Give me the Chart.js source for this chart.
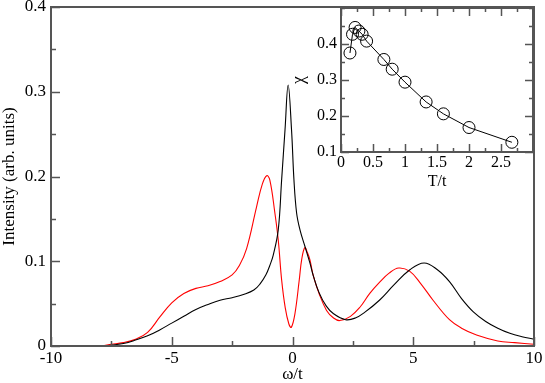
<!DOCTYPE html>
<html>
<head>
<meta charset="utf-8">
<script src="https://cdn.jsdelivr.net/npm/chart.js@4.4.1/dist/chart.umd.min.js"></script>
<style>
  html, body { margin: 0; padding: 0; background: #fff; }
  #wrap { position: relative; width: 545px; height: 383px; }
  #main { position: absolute; left: 0; top: 0; }
  #inset { position: absolute; left: 290px; top: 0; }
</style>
</head>
<body>
<div id="wrap">
  <canvas id="main" width="545" height="383"></canvas>
  <canvas id="inset" width="250" height="190"></canvas>
</div>
<script>
// main panel: spectra (black and red curves)
const omegaBlack = [-10, -8, -7.5, -7, -6.5, -6, -5.5, -5, -4.5, -4, -3.5, -3, -2.5, -2, -1.6, -1.35, -1.1, -0.94, -0.8, -0.59, -0.45, -0.31, -0.18, -0.04, 0.06, 0.17, 0.31, 0.51, 0.72, 0.86, 1.1, 1.4, 1.7, 2.2, 2.6, 3.0, 3.6, 4.2, 4.86, 5.45, 6.0, 6.5, 7.0, 7.5, 8.0, 8.5, 9.0, 9.5, 10];
const intensityBlack = [0, 0, 0.001, 0.003, 0.007, 0.012, 0.019, 0.027, 0.035, 0.043, 0.049, 0.054, 0.057, 0.061, 0.066, 0.073, 0.084, 0.095, 0.107, 0.137, 0.196, 0.255, 0.308, 0.255, 0.196, 0.157, 0.137, 0.118, 0.098, 0.083, 0.063, 0.047, 0.038, 0.031, 0.033, 0.040, 0.054, 0.072, 0.090, 0.098, 0.090, 0.076, 0.056, 0.040, 0.029, 0.021, 0.015, 0.011, 0.008];

const omegaRed = [-10, -8, -7.5, -7, -6.5, -6, -5.5, -5, -4.5, -4, -3.5, -3, -2.5, -2.2, -1.9, -1.49, -1.25, -1.07, -0.94, -0.73, -0.59, -0.45, -0.3, -0.15, -0.05, 0.1, 0.28, 0.38, 0.51, 0.62, 0.72, 0.86, 1.1, 1.41, 1.7, 1.96, 2.4, 2.8, 3.2, 3.6, 4.0, 4.4, 4.86, 5.3, 5.82, 6.5, 7.0, 7.62, 8.5, 9.2, 10];
const intensityRed = [0, 0, 0.002, 0.004, 0.008, 0.016, 0.034, 0.051, 0.062, 0.068, 0.071, 0.076, 0.084, 0.095, 0.115, 0.164, 0.191, 0.201, 0.196, 0.157, 0.125, 0.078, 0.045, 0.026, 0.022, 0.038, 0.078, 0.102, 0.116, 0.110, 0.102, 0.083, 0.062, 0.042, 0.033, 0.030, 0.035, 0.046, 0.062, 0.075, 0.086, 0.092, 0.088, 0.074, 0.054, 0.031, 0.021, 0.013, 0.006, 0.004, 0.002];

// inset: chi vs T/t
const tempT = [0.14, 0.18, 0.22, 0.28, 0.33, 0.40, 0.67, 0.80, 1.0, 1.33, 1.6, 2.0, 2.67];
const chiValues = [0.375, 0.427, 0.446, 0.436, 0.427, 0.408, 0.357, 0.330, 0.294, 0.239, 0.206, 0.168, 0.127];

const serif = "'Liberation Serif', 'Times New Roman', serif";
const frameColor = "#555";

function pts(xs, ys) {
  return xs.map((x, i) => ({ x: x, y: ys[i] }));
}

function isMultiple(v, step) {
  const r = v / step;
  return Math.abs(r - Math.round(r)) < 1e-6;
}

// keep the plot box where the reference has it, labels may hang over
function noPad(s) {
  s.paddingLeft = 0;
  s.paddingRight = 0;
  s.paddingTop = 0;
  s.paddingBottom = 0;
}

// draws the box and the inward pointing ticks (xmgrace look)
const innerTicks = {
  id: "innerTicks",
  afterDraw(chart, args, opts) {
    const ctx = chart.ctx;
    const a = chart.chartArea;
    const xs = chart.scales.x;
    const ys = chart.scales.y;
    ctx.save();
    ctx.strokeStyle = frameColor;
    ctx.lineWidth = opts.width;
    ctx.beginPath();
    xs.ticks.forEach(t => {
      const p = Math.round(xs.getPixelForValue(t.value)) + 0.5;
      const len = t.label ? opts.major : opts.minor;
      ctx.moveTo(p, a.bottom);
      ctx.lineTo(p, a.bottom - len);
      if (opts.mirror) {
        ctx.moveTo(p, a.top);
        ctx.lineTo(p, a.top + len);
      }
    });
    ys.ticks.forEach(t => {
      const p = Math.round(ys.getPixelForValue(t.value)) + 0.5;
      const len = t.label ? opts.major : opts.minor;
      ctx.moveTo(a.left, p);
      ctx.lineTo(a.left + len, p);
      if (opts.mirror) {
        ctx.moveTo(a.right, p);
        ctx.lineTo(a.right - len, p);
      }
    });
    ctx.stroke();
    ctx.lineWidth = opts.frame;
    ctx.strokeRect(a.left, a.top, a.right - a.left, a.bottom - a.top);
    ctx.restore();
  }
};

const mainChart = new Chart(document.getElementById("main"), {
  type: "scatter",
  data: {
    datasets: [
      {
        data: pts(omegaBlack, intensityBlack),
        showLine: true,
        borderColor: "#000",
        borderWidth: 1.1,
        pointRadius: 0,
        tension: 0.4
      },
      {
        data: pts(omegaRed, intensityRed),
        showLine: true,
        borderColor: "#ff0000",
        borderWidth: 1.1,
        pointRadius: 0,
        tension: 0.4
      }
    ]
  },
  options: {
    responsive: false,
    animation: false,
    devicePixelRatio: 1,
    layout: { padding: { left: 0, right: 11, top: 7, bottom: 0 } },
    plugins: {
      legend: { display: false },
      tooltip: { enabled: false },
      innerTicks: { width: 1.5, frame: 2, major: 9, minor: 5, mirror: false }
    },
    scales: {
      x: {
        type: "linear",
        min: -10,
        max: 10,
        grid: { display: false, drawTicks: false },
        border: { display: false },
        ticks: {
          stepSize: 2.5,
          autoSkip: false,
          maxRotation: 0,
          padding: 4,
          color: "#000",
          font: { family: serif, size: 17, lineHeight: 1 },
          callback: v => isMultiple(v, 5) ? String(Math.round(v)) : ""
        },
        title: {
          display: true,
          text: "ω/t",
          color: "#000",
          font: { family: serif, size: 17, lineHeight: 1 },
          padding: { top: 2, bottom: 0 }
        },
        afterFit: s => { s.height = 37; noPad(s); }
      },
      y: {
        type: "linear",
        min: 0,
        max: 0.4,
        grid: { display: false, drawTicks: false },
        border: { display: false },
        ticks: {
          stepSize: 0.05,
          autoSkip: false,
          padding: 5,
          color: "#000",
          font: { family: serif, size: 17, lineHeight: 1 },
          callback: v => isMultiple(v, 0.1) ? (Math.abs(v) < 1e-9 ? "0" : v.toFixed(1)) : ""
        },
        title: {
          display: true,
          text: "Intensity (arb. units)",
          color: "#000",
          font: { family: serif, size: 17, lineHeight: 1 },
          padding: { top: 1, bottom: 0 }
        },
        afterFit: s => { s.width = 51; noPad(s); }
      }
    }
  },
  plugins: [innerTicks]
});

const insetChart = new Chart(document.getElementById("inset"), {
  type: "scatter",
  data: {
    datasets: [
      {
        data: pts(tempT, chiValues),
        showLine: true,
        borderColor: "#000",
        borderWidth: 1,
        pointRadius: 6,
        pointBorderWidth: 1,
        pointBorderColor: "#000",
        pointBackgroundColor: "rgba(0,0,0,0)",
        tension: 0
      }
    ]
  },
  options: {
    responsive: false,
    animation: false,
    devicePixelRatio: 1,
    layout: { padding: { left: 0, right: 5, top: 8, bottom: 0 } },
    plugins: {
      legend: { display: false },
      tooltip: { enabled: false },
      innerTicks: { width: 1.5, frame: 2, major: 8, minor: 4, mirror: true }
    },
    scales: {
      x: {
        type: "linear",
        min: 0,
        max: 3,
        grid: { display: false, drawTicks: false },
        border: { display: false },
        ticks: {
          stepSize: 0.25,
          autoSkip: false,
          maxRotation: 0,
          padding: 3,
          color: "#000",
          font: { family: serif, size: 16, lineHeight: 1 },
          callback: v => (isMultiple(v, 0.5) && v < 2.9) ? String(Math.round(v * 2) / 2) : ""
        },
        title: {
          display: true,
          text: "T/t",
          color: "#000",
          font: { family: serif, size: 16, lineHeight: 1 },
          padding: { top: 1, bottom: 0 }
        },
        afterFit: s => { s.height = 38; noPad(s); }
      },
      y: {
        type: "linear",
        min: 0.1,
        max: 0.5,
        grid: { display: false, drawTicks: false },
        border: { display: false },
        ticks: {
          stepSize: 0.05,
          autoSkip: false,
          padding: 4,
          color: "#000",
          font: { family: serif, size: 16, lineHeight: 1 },
          callback: v => (isMultiple(v, 0.1) && v < 0.45) ? v.toFixed(1) : ""
        },
        title: {
          display: true,
          text: "χ",
          color: "#000",
          font: { family: serif, size: 18, lineHeight: 1 },
          padding: { top: 0, bottom: 0 }
        },
        afterFit: s => { s.width = 51; noPad(s); }
      }
    }
  },
  plugins: [innerTicks]
});
</script>
</body>
</html>
